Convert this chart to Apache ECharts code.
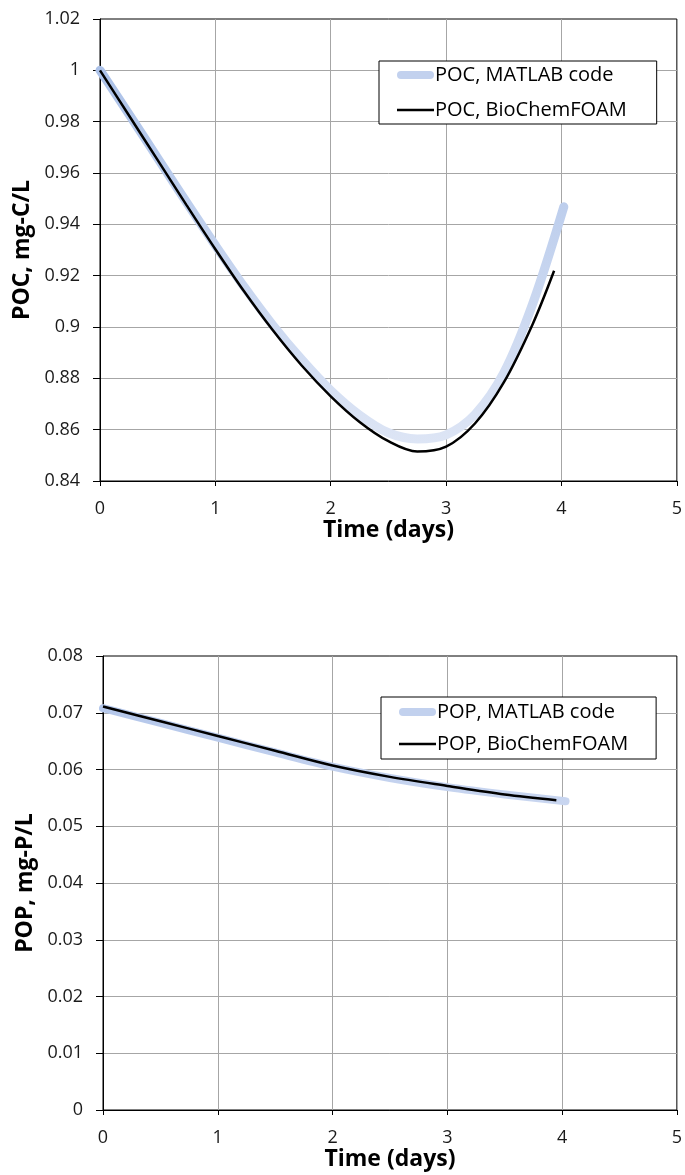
<!DOCTYPE html>
<html>
<head>
<meta charset="utf-8">
<script src="https://cdn.jsdelivr.net/npm/echarts@6/dist/echarts.min.js"></script>
<style>
  html, body { margin: 0; padding: 0; background: #fff; }
  #chart { width: 685px; height: 1175px; }
</style>
</head>
<body>
<div id="chart"></div>
<script>
// Particulate organic carbon, mg-C/L, versus time (days)
const pocMatlab = [
  [0, 1.000], [0.25, 0.9830], [0.5, 0.9658], [0.75, 0.9486], [1.0, 0.9318],
  [1.25, 0.9156], [1.5, 0.9006], [1.75, 0.8872], [2.0, 0.8753], [2.25, 0.8657],
  [2.5, 0.8588], [2.75, 0.8564], [3.0, 0.8580], [3.25, 0.8659], [3.5, 0.8821],
  [3.75, 0.9090], [4.02, 0.9468]
];
const pocFoam = [
  [0, 1.000], [0.25, 0.9825], [0.5, 0.9650], [0.75, 0.9475], [1.0, 0.9303],
  [1.25, 0.9138], [1.5, 0.8986], [1.75, 0.8849], [2.0, 0.8730], [2.25, 0.8630],
  [2.5, 0.8555], [2.75, 0.8515], [3.0, 0.8534], [3.25, 0.8624], [3.5, 0.8784],
  [3.75, 0.9011], [3.936, 0.9219]
];

// Particulate organic phosphorus, mg-P/L, versus time (days)
const popMatlab = [
  [0, 0.0708], [0.5, 0.0682], [1, 0.0656], [1.5, 0.0630], [2, 0.0605],
  [2.5, 0.0585], [3, 0.0569], [3.5, 0.0556], [4.03, 0.0544]
];
const popFoam = [
  [0, 0.0711], [0.5, 0.0685], [1, 0.0659], [1.5, 0.0633], [2, 0.0607],
  [2.5, 0.0587], [3, 0.0571], [3.5, 0.0556], [3.95, 0.0546]
];

const names = {
  pocMatlab: 'POC, MATLAB code',
  pocFoam: 'POC, BioChemFOAM',
  popMatlab: 'POP, MATLAB code',
  popFoam: 'POP, BioChemFOAM'
};
const xTitle = 'Time (days)';
const yTitles = ['POC, mg-C/L', 'POP, mg-P/L'];

const FONT = '"Open Sans", Lato, sans-serif';
const TEXT = '#1a1a1a';
const GRIDLINE = '#a6a6a6';
const BLUE_KEY = '#c2d1ee';
const SMOOTH = 0.33;

// legend keys: a rounded thick stroke and a thin black stroke
const ICON_THICK = 'path://M4,0 H33 A4,4 0 0 1 33,8 H4 A4,4 0 0 1 4,0 Z';
const ICON_THIN = 'path://M0,0 H37 V2.5 H0 Z';

function fmt(v) { return String(+v.toFixed(3)); }

function xAxisFor(gridIndex) {
  return {
    type: 'value', gridIndex, min: 0, max: 5, interval: 1,
    name: xTitle, nameLocation: 'middle', nameGap: 38,
    nameTextStyle: { fontFamily: FONT, fontSize: 23, fontWeight: 'bold', color: '#000' },
    axisLine: { show: true, onZero: false, lineStyle: { color: '#000', width: 1 } },
    axisTick: { show: true, length: 5, lineStyle: { color: '#000' } },
    axisLabel: { margin: 19, fontFamily: FONT, fontSize: 18, color: TEXT, formatter: fmt },
    splitLine: { show: true, showMaxLine: false, lineStyle: { color: GRIDLINE, width: 1 } }
  };
}

function yAxisFor(gridIndex, min, max, interval, title) {
  return {
    type: 'value', gridIndex, min, max, interval,
    name: title, nameLocation: 'middle', nameGap: 59,
    nameTextStyle: { fontFamily: FONT, fontSize: 23, fontWeight: 'bold', color: '#000' },
    axisLine: { show: true, lineStyle: { color: '#000', width: 1 } },
    axisTick: { show: true, length: 7, lineStyle: { color: '#000' } },
    axisLabel: { margin: 20, fontFamily: FONT, fontSize: 18, color: TEXT, formatter: fmt },
    splitLine: { show: true, showMaxLine: false, lineStyle: { color: GRIDLINE, width: 1 } }
  };
}

function thickLine(name, data, axisIndex, top, bottom, width) {
  return {
    name, type: 'line', data, xAxisIndex: axisIndex, yAxisIndex: axisIndex,
    smooth: SMOOTH, showSymbol: false, symbol: 'none', z: 2,
    lineStyle: {
      width, cap: 'round', join: 'round',
      color: new echarts.graphic.LinearGradient(0, 0, 0, 1, [
        { offset: 0, color: top }, { offset: 1, color: bottom }
      ])
    },
    itemStyle: { color: BLUE_KEY }
  };
}

function thinLine(name, data, axisIndex) {
  return {
    name, type: 'line', data, xAxisIndex: axisIndex, yAxisIndex: axisIndex,
    smooth: SMOOTH, showSymbol: false, symbol: 'none', z: 3,
    lineStyle: { width: 2.5, color: '#000', cap: 'butt' },
    itemStyle: { color: '#000' }
  };
}

function legendFor(thickName, thinName, left, top, padding, gap) {
  return {
    data: [
      { name: thickName, icon: ICON_THICK, itemStyle: { color: BLUE_KEY } },
      { name: thinName, icon: ICON_THIN, itemStyle: { color: '#000' } }
    ],
    orient: 'vertical', left, top,
    backgroundColor: '#fff', borderColor: '#000', borderWidth: 1, borderRadius: 0,
    padding, itemGap: gap, itemWidth: 37, itemHeight: 9,
    symbolKeepAspect: true,
    textStyle: { fontFamily: FONT, fontSize: 20, color: '#000', lineHeight: 22, padding: [0, 0, 0, -4] },
    selectedMode: false
  };
}

const chart = echarts.init(document.getElementById('chart'), null, { renderer: 'canvas' });
chart.setOption({
  backgroundColor: '#fff',
  animation: false,
  grid: [
    { left: 100, top: 19, right: 5, height: 462, show: true, borderColor: '#000', borderWidth: 1, backgroundColor: 'transparent' },
    { left: 103, top: 656, right: 8, height: 454, show: true, borderColor: '#000', borderWidth: 1, backgroundColor: 'transparent' }
  ],
  xAxis: [xAxisFor(0), xAxisFor(1)],
  yAxis: [
    yAxisFor(0, 0.84, 1.02, 0.02, yTitles[0]),
    yAxisFor(1, 0, 0.08, 0.01, yTitles[1])
  ],
  legend: [
    legendFor(names.pocMatlab, names.pocFoam, 379, 61, [3, 30, 3, 18], 13),
    legendFor(names.popMatlab, names.popFoam, 381, 697, [4, 28, 4, 18], 10)
  ],
  series: [
    thickLine(names.pocMatlab, pocMatlab, 0, '#abc1e8', '#dde5f5', 9),
    thinLine(names.pocFoam, pocFoam, 0),
    thickLine(names.popMatlab, popMatlab, 1, '#b3c6ea', '#c9d6f0', 8),
    thinLine(names.popFoam, popFoam, 1)
  ]
});
</script>
</body>
</html>
